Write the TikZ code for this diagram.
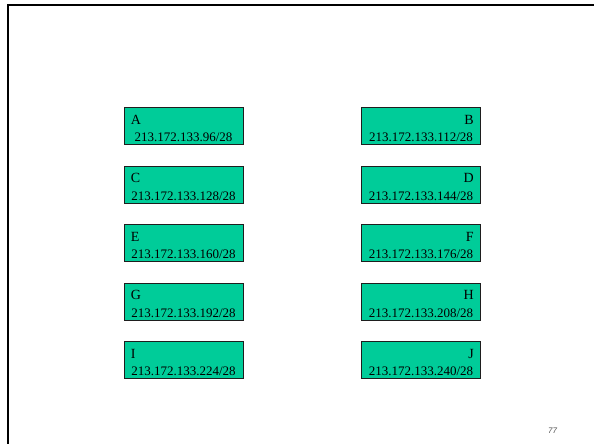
\documentclass[tikz,border=0pt]{standalone}
\usepackage{fontspec}
\setmainfont{Liberation Serif}
\newfontfamily\pagefont{Liberation Sans}
\usetikzlibrary{calc}
\definecolor{subnet}{RGB}{0,204,153}
\definecolor{ink}{RGB}{30,30,30}
\tikzset{
  net/.style={draw=ink,fill=subnet,line width=0.8pt,minimum width=119pt,
    minimum height=37pt,inner sep=0pt},
  letter/.style={inner sep=0pt,font=\fontsize{14}{14}\selectfont},
  addr/.style={inner sep=0pt,anchor=base,font=\fontsize{13}{13}\selectfont},
  frame/.style={line width=2pt,draw=black},
}

\begin{document}
\begin{tikzpicture}[x=1pt,y=-1pt]
  \useasboundingbox (0,0) rectangle (594,444);
  \coordinate (fb) at (8,444); \coordinate (fc) at (8,5); \coordinate (fr) at (594,5);
  \draw[frame] (fb) -- (fc) -- (fr);
  % subnets, two columns
  \foreach \l/\r/\la/\ra [count=\i from 0] in {A/B/96/112,C/D/128/144,E/F/160/176,G/H/192/208,I/J/224/240} {
    \node[net] (\l) at (183.5,{126+58.5*\i}) {};
    \node[letter,anchor=base west] (\l-name) at ($(\l.north west)+(7,17)$) {\l};
    \node[addr] (\l-addr) at ($(\l.south)+(0,-3)$) {213.172.133.\la/28};
    \node[net] (\r) at (421,{126+58.5*\i}) {};
    \node[letter,anchor=base east] (\r-name) at ($(\r.north east)+(-7,17)$) {\r};
    \node[addr] (\r-addr) at ($(\r.south)+(0,-3)$) {213.172.133.\ra/28};
  }
  \node[inner sep=0pt,anchor=base,font=\pagefont\itshape\fontsize{8}{8}\selectfont,text=black!70] (page) at (552.5,433) {77};
\end{tikzpicture}
\end{document}
